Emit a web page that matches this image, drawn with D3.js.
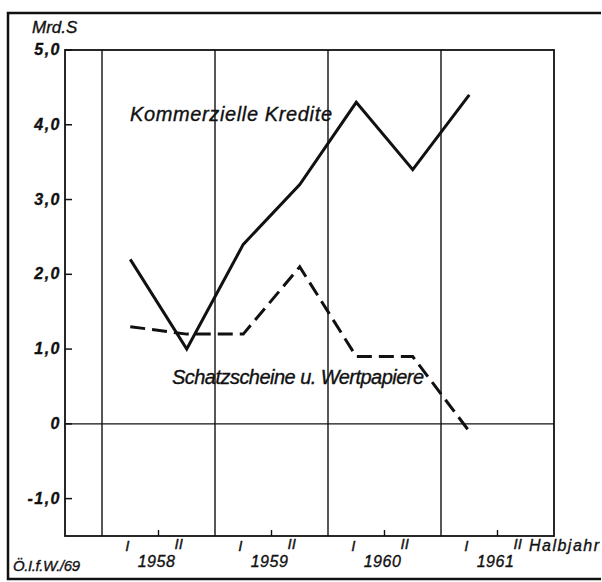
<!DOCTYPE html>
<html>
<head>
<meta charset="utf-8">
<script src="https://cdn.jsdelivr.net/npm/d3@7"></script>
<style>
  body { margin: 0; background: #fff; }
  svg text { font-family: "Liberation Sans Narrow", "Liberation Sans", Arial, sans-serif; font-style: italic; fill: #111; stroke: #111; stroke-width: 0.35px; }
</style>
</head>
<body>
<svg id="svg" width="602" height="582"></svg>
<script>
// half years, 0 = 1958 I ... 6 = 1961 I
const halfYears = [0, 1, 2, 3, 4, 5, 6];
const kredite = [2.2, 1.0, 2.4, 3.2, 4.3, 3.4, 4.4];
const schatz = [1.3, 1.2, 1.2, 2.1, 0.9, 0.9, -0.1];
const years = ["1958", "1959", "1960", "1961"];
const yTicks = [-1, 0, 1, 2, 3, 4, 5];
const yTickLabels = ["-1,0", "0", "1,0", "2,0", "3,0", "4,0", "5,0"];

const svg = d3.select("#svg");

// plot box
const LEFT = 65, RIGHT = 554, TOP = 50, BOTTOM = 536;

const x = d3.scaleLinear()
        .domain([0, 8])//8 half years
        .range([102, RIGHT]);
const y = d3.scaleLinear()
        .domain([-1.5, 5])
        .range([BOTTOM, TOP]);

//outer frame
svg.append("path")
        .attr("d", "M601,13 L8,13 L8,579 L601,579")
        .attr("fill", "none")
        .attr("stroke", "#111")
        .attr("stroke-width", 2.5);

//year boundaries
svg.selectAll("line.year")
        .data([0, 2, 4, 6])
        .enter()
        .append("line")
        .attr("x1", d => x(d)).attr("x2", d => x(d))
        .attr("y1", TOP).attr("y2", BOTTOM)
        .attr("stroke", "#111")
        .attr("stroke-width", 1.4);

//zero line
svg.append("line")
        .attr("x1", LEFT).attr("x2", RIGHT)
        .attr("y1", y(0)).attr("y2", y(0))
        .attr("stroke", "#111")
        .attr("stroke-width", 1.2);

//plot box
svg.append("rect")
        .attr("x", LEFT).attr("y", TOP)
        .attr("width", RIGHT - LEFT).attr("height", BOTTOM - TOP)
        .attr("fill", "none")
        .attr("stroke", "#111")
        .attr("stroke-width", 1.8);

//y ticks pointing inward
svg.selectAll("line.ytick")
        .data(yTicks)
        .enter()
        .append("line")
        .attr("x1", LEFT).attr("x2", LEFT + 7)
        .attr("y1", d => y(d)).attr("y2", d => y(d))
        .attr("stroke", "#111")
        .attr("stroke-width", 1.5);

svg.selectAll("text.ylab")
        .data(yTicks)
        .enter()
        .append("text")
        .attr("x", 61)
        .attr("y", d => y(d) + 5)
        .attr("text-anchor", "end")
        .attr("font-size", 16)
        .attr("font-weight", "bold")
        .attr("letter-spacing", 1.5)
        .text((d, i) => yTickLabels[i]);

svg.append("text")
        .attr("x", 32).attr("y", 33)
        .attr("font-size", 17)
        .text("Mrd.S");

//mid-year ticks at bottom
svg.selectAll("line.xtick")
        .data([1, 3, 5, 7])
        .enter()
        .append("line")
        .attr("x1", d => x(d)).attr("x2", d => x(d))
        .attr("y1", BOTTOM).attr("y2", BOTTOM - 6)
        .attr("stroke", "#111")
        .attr("stroke-width", 1.4);

//half year labels
years.forEach((yr, i) => {
    svg.append("text")
            .attr("x", x(2 * i + 0.5) - 3).attr("y", 551)
            .attr("text-anchor", "middle")
            .attr("font-size", 15)
            .text("I");
    svg.append("text")
            .attr("x", x(2 * i + 1.5) - 8).attr("y", 549)
            .attr("text-anchor", "middle")
            .attr("font-size", 15)
            .text("II");
    svg.append("text")
            .attr("x", x(2 * i + 1) - 2).attr("y", 567)
            .attr("text-anchor", "middle")
            .attr("font-size", 16)
            .attr("letter-spacing", 0.5)
            .text(yr);
});

svg.append("text")
        .attr("x", 529).attr("y", 551)
        .attr("font-size", 16)
        .attr("textLength", 70)
        .attr("lengthAdjust", "spacing")
        .text("Halbjahr");

svg.append("text")
        .attr("x", 13).attr("y", 571)
        .attr("font-size", 15)
        .attr("textLength", 67)
        .attr("lengthAdjust", "spacing")
        .text("Ö.I.f.W./69");

//series lines
const line = d3.line()
        .x((d, i) => x(halfYears[i] + 0.5))
        .y(d => y(d));

svg.append("path")
        .datum(kredite)
        .attr("d", line)
        .attr("fill", "none")
        .attr("stroke", "#111")
        .attr("stroke-width", 3)
        .attr("stroke-linejoin", "miter");

svg.append("path")
        .datum(schatz)
        .attr("d", line)
        .attr("fill", "none")
        .attr("stroke", "#111")
        .attr("stroke-width", 3)
        .attr("stroke-dasharray", "15,7");

//series labels
svg.append("text")
        .attr("x", 130).attr("y", 121)
        .attr("font-size", 20)
        .attr("textLength", 202)
        .attr("lengthAdjust", "spacing")
        .text("Kommerzielle Kredite");

svg.append("text")
        .attr("x", 172).attr("y", 384)
        .attr("font-size", 20)
        .attr("textLength", 252)
        .attr("lengthAdjust", "spacing")
        .text("Schatzscheine u. Wertpapiere");
</script>
</body>
</html>
